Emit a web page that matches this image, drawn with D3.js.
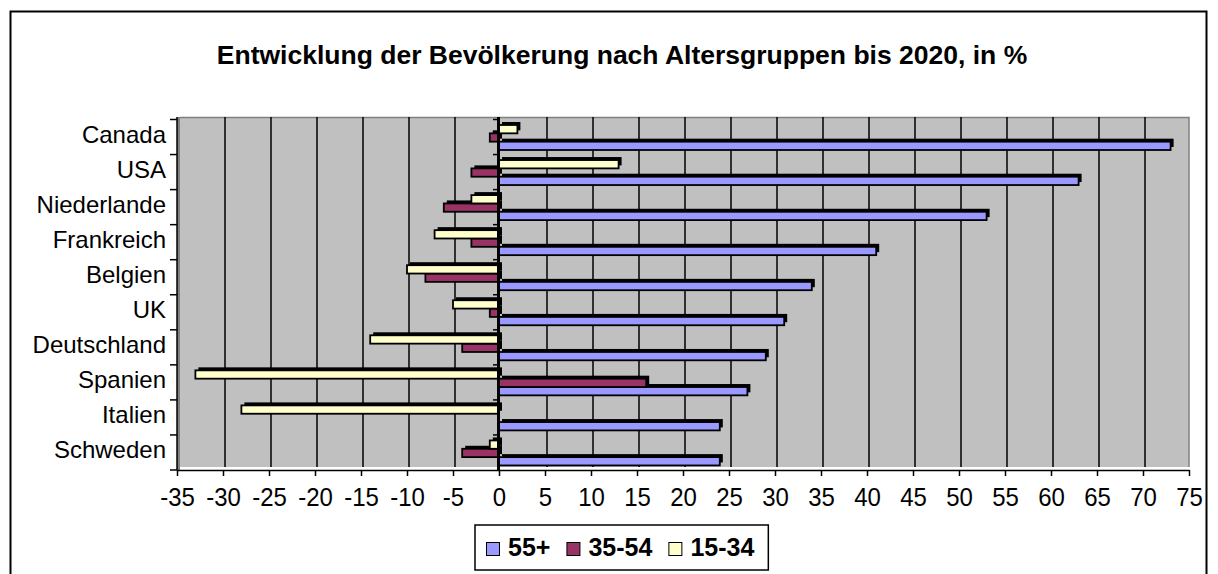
<!DOCTYPE html>
<html>
<head>
<meta charset="utf-8">
<script src="https://cdn.jsdelivr.net/npm/d3@7"></script>
<style>
  html, body { margin: 0; padding: 0; background: #fff; }
  svg { display: block; font-family: "Liberation Sans", Arial, sans-serif; }
</style>
</head>
<body>
<svg id="chart" width="1218" height="574"></svg>
<script>
const categories = ["Canada", "USA", "Niederlande", "Frankreich", "Belgien", "UK", "Deutschland", "Spanien", "Italien", "Schweden"];
const values55 = [73, 63, 53, 41, 34, 31, 29, 27, 24, 24];
const values35 = [-1, -3, -6, -3, -8, -1, -4, 16, 0, -4];
const values15 = [2, 13, -3, -7, -10, -5, -14, -33, -28, -1];
const seriesNames = ["55+", "35-54", "15-34"];
const seriesColors = ["#9999FF", "#993366", "#FFFFCC"];
const xTickValues = [-35, -30, -25, -20, -15, -10, -5, 0, 5, 10, 15, 20, 25, 30, 35, 40, 45, 50, 55, 60, 65, 70, 75];
const titleText = "Entwicklung der Bevölkerung nach Altersgruppen bis 2020, in %";

const seriesValues = [values55, values35, values15];

const svg = d3.select("#chart");

// outer frame
svg.append("rect").attr("x", 10.5).attr("y", 11.5).attr("width", 1196).attr("height", 620)
  .attr("fill", "#fff").attr("stroke", "#000").attr("stroke-width", 2);

// title
svg.append("text").attr("x", 622).attr("y", 64).attr("text-anchor", "middle")
  .attr("font-size", 26.5).attr("font-weight", "bold").text(titleText);

const x = d3.scaleLinear().domain([-35, 75]).range([177, 1189]);
const y = d3.scaleBand().domain(categories).range([119.5, 470]).padding(0);
const sub = d3.scaleBand().domain(["15-34", "35-54", "55+"]).range([5.5, 30.5]).padding(0);

const plotTop = 117, plotBottom = 467;

// plot area background
svg.append("rect").attr("x", x(-35) + 3).attr("y", plotTop)
  .attr("width", x(75) - x(-35) - 3).attr("height", plotBottom - plotTop)
  .attr("fill", "#C0C0C0");
// side wall strip
svg.append("rect").attr("x", x(-35)).attr("y", plotTop)
  .attr("width", 3).attr("height", 470 - plotTop).attr("fill", "#808080");
// plot border top & right
svg.append("path")
  .attr("d", `M${x(-35) + 3},${plotTop + 0.5}H${x(75)}V${plotBottom}`)
  .attr("fill", "none").attr("stroke", "#808080").attr("stroke-width", 1.5);

// gridlines
svg.append("g").selectAll("line")
  .data(xTickValues.filter(d => d > -35 && d < 75 && d !== 0))
  .join("line")
  .attr("x1", d => x(d) + 2).attr("x2", d => x(d) + 2)
  .attr("y1", plotTop).attr("y2", plotBottom)
  .attr("stroke", "#000").attr("stroke-width", 1.5);

// bars
const barData = [];
categories.forEach((c, i) => {
  seriesNames.forEach((s, k) => {
    const v = seriesValues[k][i];
    if (v !== 0) barData.push({ cat: c, series: s, value: v, color: seriesColors[k] });
  });
});

const gBars = svg.append("g");
// depth faces (dark)
gBars.selectAll("rect.depth").data(barData).join("rect").attr("class", "depth")
  .attr("x", d => Math.min(x(0), x(d.value)) + 3)
  .attr("y", d => y(d.cat) + sub(d.series) - 3)
  .attr("width", d => Math.abs(x(d.value) - x(0)))
  .attr("height", sub.bandwidth())
  .attr("fill", "#000");
// front faces
gBars.selectAll("rect.front").data(barData).join("rect").attr("class", "front")
  .attr("x", d => Math.min(x(0), x(d.value)))
  .attr("y", d => y(d.cat) + sub(d.series))
  .attr("width", d => Math.abs(x(d.value) - x(0)))
  .attr("height", sub.bandwidth())
  .attr("fill", d => d.color)
  .attr("stroke", "#000").attr("stroke-width", 1.8);

// zero line
svg.append("line").attr("x1", x(0) - 0.5).attr("x2", x(0) - 0.5)
  .attr("y1", plotTop).attr("y2", 470).attr("stroke", "#000").attr("stroke-width", 3);

// category boundaries ticks
const bounds = categories.map(c => y(c)).concat([y.range()[1]]);
svg.append("g").selectAll("line").data(bounds).join("line")
  .attr("x1", x(-35) - 7).attr("x2", x(-35)).attr("y1", d => d).attr("y2", d => d)
  .attr("stroke", "#000").attr("stroke-width", 1.5);
svg.append("g").selectAll("line").data(bounds.slice(0, -1)).join("line")
  .attr("x1", x(0) - 6).attr("x2", x(0) - 1).attr("y1", d => d).attr("y2", d => d)
  .attr("stroke", "#000").attr("stroke-width", 1.5);
// left axis line
svg.append("line").attr("x1", x(-35)).attr("x2", x(-35)).attr("y1", plotTop).attr("y2", 470)
  .attr("stroke", "#000").attr("stroke-width", 1.5);

// category labels
svg.append("g").selectAll("text").data(categories).join("text")
  .attr("x", 166).attr("y", d => y(d) + y.bandwidth() / 2 + 6)
  .attr("text-anchor", "end").attr("font-size", 24).text(d => d);

// x axis
const xAxis = d3.axisBottom(x).tickValues(xTickValues).tickSize(6).tickSizeOuter(0)
  .tickFormat(d => String(d));
const gx = svg.append("g").attr("transform", "translate(0,470)").call(xAxis);
gx.select(".domain").attr("stroke", "#000").attr("stroke-width", 1.5);
gx.selectAll(".tick line").attr("stroke", "#000").attr("stroke-width", 1.5);
gx.selectAll(".tick text").attr("font-size", 24).attr("font-family", "Liberation Sans, Arial, sans-serif")
  .attr("fill", "#000").attr("y", 36).attr("dy", 0)
  .attr("transform", "translate(0,36) scale(1,1.1) translate(0,-36)");

// legend
const lg = svg.append("g");
const box = lg.append("rect").attr("x", 475).attr("y", 525).attr("height", 45)
  .attr("fill", "#fff").attr("stroke", "#000").attr("stroke-width", 1.5);
let cx = 486;
seriesNames.forEach((s, k) => {
  lg.append("rect").attr("x", cx + 0.5).attr("y", 542.5).attr("width", 13).attr("height", 13)
    .attr("fill", seriesColors[k]).attr("stroke", "#000").attr("stroke-width", 1);
  const t = lg.append("text").attr("x", cx + 22).attr("y", 556)
    .attr("font-size", 25).attr("font-weight", "bold").text(s);
  const w = t.node().getComputedTextLength();
  cx = cx + 22 + w + (k < seriesNames.length - 1 ? 16 : 0);
});
box.attr("width", cx + 14 - 475);
</script>
</body>
</html>
